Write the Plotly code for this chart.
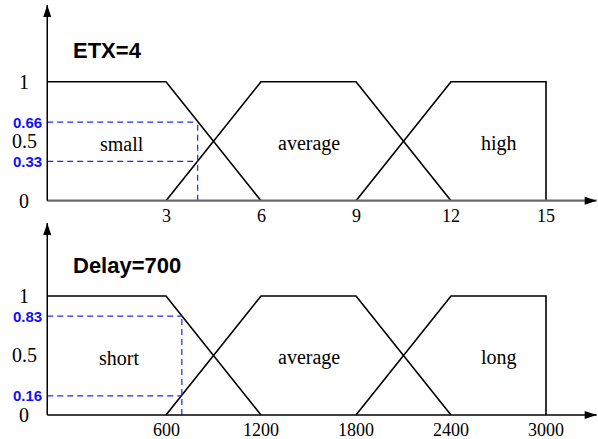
import plotly.graph_objects as go

# ---------------- data ----------------
# Top panel: ETX membership functions
etx_title = "ETX=4"
etx_ticks = [3, 6, 9, 12, 15]
etx_axis_origin = -0.75
etx_small_x = [-0.75, 3, 6]
etx_small_y = [1, 1, 0]
etx_avg_x = [3, 6, 9, 12]
etx_avg_y = [0, 1, 1, 0]
etx_high_x = [9, 12, 15, 15]
etx_high_y = [0, 1, 1, 0]
etx_value = 4
etx_memberships = [0.66, 0.33]
etx_labels = ["small", "average", "high"]
etx_label_x = [1.6, 7.5, 13.5]

# Bottom panel: Delay membership functions
delay_title = "Delay=700"
delay_ticks = [600, 1200, 1800, 2400, 3000]
delay_axis_origin = -150
delay_short_x = [-150, 600, 1200]
delay_short_y = [1, 1, 0]
delay_avg_x = [600, 1200, 1800, 2400]
delay_avg_y = [0, 1, 1, 0]
delay_long_x = [1800, 2400, 3000, 3000]
delay_long_y = [0, 1, 1, 0]
delay_value = 700
delay_memberships = [0.83, 0.16]
delay_labels = ["short", "average", "long"]
delay_label_x = [300, 1500, 2700]

y_ticks = [0, 0.5, 1]
y_tick_text = ["0", "0.5", "1"]

# ---------------- style ----------------
BLUE_TEXT = "#1010ff"
BLUE_LINE = "#2424ff"
SERIF = "Liberation Serif, Times New Roman, serif"
SANS = "Liberation Sans, Arial, sans-serif"

fig = go.Figure()


def panel(xr, yr, origin, mfs, value, memberships, labels, label_x, ticks,
          title, x_tip, y_tip, xaxis_color, xaxis_width):
    # membership functions
    for xs, ys in mfs:
        fig.add_trace(go.Scatter(x=xs, y=ys, mode="lines", xaxis=xr, yaxis=yr,
                                 line=dict(color="black", width=1.6),
                                 hoverinfo="skip", showlegend=False))
    # dashed guide lines
    for m in memberships:
        fig.add_trace(go.Scatter(x=[origin, value], y=[m, m], mode="lines",
                                 xaxis=xr, yaxis=yr,
                                 line=dict(color=BLUE_LINE, width=1.2, dash="6px,4px"),
                                 hoverinfo="skip", showlegend=False))
    fig.add_trace(go.Scatter(x=[value, value], y=[0, max(memberships)], mode="lines",
                             xaxis=xr, yaxis=yr,
                             line=dict(color=BLUE_LINE, width=1.2, dash="6px,4px"),
                             hoverinfo="skip", showlegend=False))
    # axes lines
    fig.add_shape(type="line", xref=xr, yref=yr, x0=origin, x1=x_tip,
                  y0=0, y1=0, line=dict(color=xaxis_color, width=xaxis_width))
    fig.add_shape(type="line", xref=xr, yref=yr, x0=origin, x1=origin,
                  y0=0, y1=y_tip, line=dict(color="black", width=1.5))
    # arrow heads
    fig.add_shape(type="path", xref=xr, yref=yr, xsizemode="pixel",
                  ysizemode="pixel", xanchor=x_tip, yanchor=0,
                  path="M0,0 L-12,4 L-12,-4 Z", fillcolor="black",
                  line=dict(width=0))
    fig.add_shape(type="path", xref=xr, yref=yr, xsizemode="pixel",
                  ysizemode="pixel", xanchor=origin, yanchor=y_tip,
                  path="M0,0 L-4,-12 L4,-12 Z", fillcolor="black",
                  line=dict(width=0))
    # y tick labels
    for v, t in zip(y_ticks, y_tick_text):
        fig.add_annotation(x=origin, y=v, xref=xr, yref=yr, text=t,
                           showarrow=False, xanchor="center", yanchor="middle",
                           xshift=-23, font=dict(family=SERIF, size=20, color="black"))
    # blue membership labels
    for m in memberships:
        fig.add_annotation(x=origin, y=m, xref=xr, yref=yr, text=f"{m:.2f}",
                           showarrow=False, xanchor="right", yanchor="middle",
                           xshift=-3, font=dict(family=SANS, size=15, color=BLUE_TEXT,
                                                weight="bold"))
    # x tick labels
    for v in ticks:
        fig.add_annotation(x=v, y=0, xref=xr, yref=yr, text=str(v),
                           showarrow=False, xanchor="center", yanchor="top",
                           yshift=-3, font=dict(family=SERIF, size=18, color="black"))
    # region labels
    for lx, lt in zip(label_x, labels):
        fig.add_annotation(x=lx, y=0.48, xref=xr, yref=yr, text=lt,
                           showarrow=False, xanchor="center", yanchor="middle",
                           font=dict(family=SERIF, size=20, color="black"))
    # title
    fig.add_annotation(x=0, y=1.26, xref=xr, yref=yr, text=title,
                       showarrow=False, xanchor="left", yanchor="middle",
                       font=dict(family=SANS, size=22, color="black", weight="bold"))


panel("x", "y", etx_axis_origin,
      [(etx_small_x, etx_small_y), (etx_avg_x, etx_avg_y), (etx_high_x, etx_high_y)],
      etx_value, etx_memberships, etx_labels, etx_label_x, etx_ticks,
      etx_title, 16.6, 1.645, "#6a6a6a", 2.2)
panel("x2", "y2", delay_axis_origin,
      [(delay_short_x, delay_short_y), (delay_avg_x, delay_avg_y),
       (delay_long_x, delay_long_y)],
      delay_value, delay_memberships, delay_labels, delay_label_x, delay_ticks,
      delay_title, 3320, 1.613, "black", 1.5)

hidden = dict(visible=False, showgrid=False, zeroline=False, fixedrange=True)
fig.update_layout(
    width=598, height=439,
    margin=dict(l=0, r=0, t=0, b=0),
    paper_bgcolor="white", plot_bgcolor="white",
    showlegend=False,
    xaxis=dict(domain=[0, 1], range=[-2.2421, 16.6421], anchor="y", **hidden),
    yaxis=dict(domain=[0.5011, 1], range=[-0.1538, 1.6866], anchor="x", **hidden),
    xaxis2=dict(domain=[0, 1], range=[-448.4, 3328.4], anchor="y2", **hidden),
    yaxis2=dict(domain=[0, 0.4989], range=[-0.2017, 1.6387], anchor="x2", **hidden),
)

fig.write_html("out.html", config={"displayModeBar": False},
               post_script="document.body.style.margin='0';"
                           "document.body.style.overflow='hidden';")
